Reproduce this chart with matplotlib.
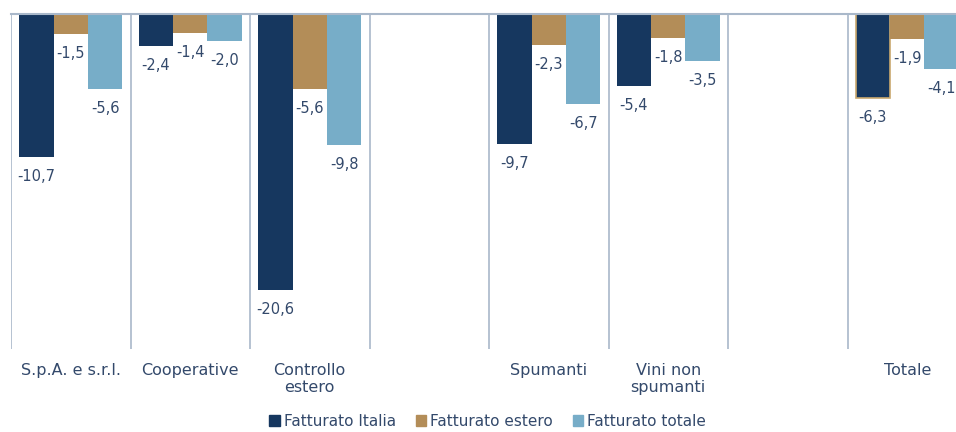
import matplotlib
matplotlib.use("Agg")
import matplotlib.pyplot as plt
import matplotlib.patches as mpatches
import numpy as np

# data
categories = ["S.p.A. e s.r.l.", "Cooperative", "Controllo\nestero", "",
              "Spumanti", "Vini non\nspumanti", "", "Totale"]
fatt_italia = [-10.7, -2.4, -20.6, np.nan, -9.7, -5.4, np.nan, -6.3]
fatt_estero = [-1.5, -1.4, -5.6, np.nan, -2.3, -1.8, np.nan, -1.9]
fatt_totale = [-5.6, -2.0, -9.8, np.nan, -6.7, -3.5, np.nan, -4.1]
series_names = ["Fatturato Italia", "Fatturato estero", "Fatturato totale"]

colors = ["#16375F", "#B38D58", "#77ADC8"]
txt_col = "#33496B"
line_col = "#A9B8CA"

plt.rcParams['font.family'] = ['DejaVu Sans']

fig = plt.figure(figsize=(9.56, 4.32), dpi=100)
ax = fig.add_axes([11/956, 1-349/432, 956/956, 335/432])

x = np.arange(len(categories))
w = 0.288
series = [fatt_italia, fatt_estero, fatt_totale]
for i, vals in enumerate(series):
    pos = x + (i-1)*w
    bars = ax.bar(pos, vals, w, color=colors[i], zorder=2)
    for p, v in zip(pos, vals):
        if np.isnan(v):
            continue
        lab = ("%.1f" % v).replace(".", ",")
        ax.annotate(lab, (p, v), xytext=(0, -14), textcoords="offset points",
                    ha="center", va="center", fontsize=10.5, color=txt_col)

# the Totale Italia bar has a gold outline in the original
ax.patches[7].set_edgecolor("#C9A86E")
ax.patches[7].set_linewidth(1.2)

for b in np.arange(-0.5, len(categories)+0.5, 1):
    ax.axvline(b, color=line_col, lw=1.2, zorder=1)

ax.set_xlim(-0.5, len(categories)-0.5)
ax.set_ylim(-25, 0)
for s in ["left", "right", "bottom"]:
    ax.spines[s].set_visible(False)
ax.spines["top"].set_color(line_col)
ax.spines["top"].set_linewidth(1.5)
ax.spines["top"].set_zorder(3)
ax.set_yticks([])
ax.set_xticks(x)
ax.set_xticklabels(categories, fontsize=11.5, color=txt_col)
ax.tick_params(axis="x", length=0, pad=10)

handles = [mpatches.Patch(color=c) for c in colors]
fig.legend(handles, series_names, loc="center", bbox_to_anchor=(0.51, 0.024),
           ncol=3, frameon=False, fontsize=11, handlelength=0.7,
           handleheight=0.7, handletextpad=0.25, columnspacing=1.3,
           labelcolor=txt_col)

fig.savefig("out.png", dpi=100)
